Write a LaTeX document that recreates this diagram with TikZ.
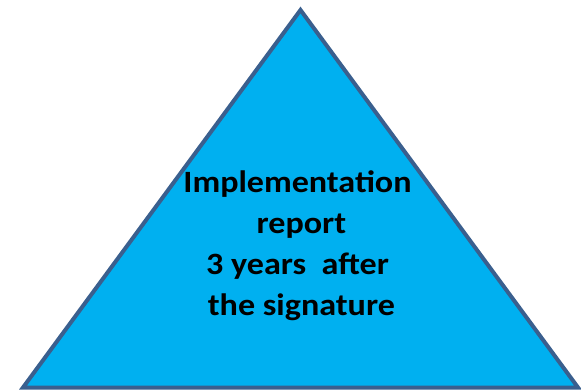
\documentclass[tikz,border=0pt]{standalone}
\usepackage{fontspec}
\setmainfont{Carlito}[FakeStretch=1.1]
\definecolor{trifill}{HTML}{00B0F0}
\definecolor{triline}{HTML}{3A5F8E}
\begin{document}
\begin{tikzpicture}[x=1pt,y=-1pt,
  tri/.style={fill=trifill,draw=triline,line width=4pt,line join=miter},
  label/.style={font=\bfseries\fontsize{31}{40.7}\selectfont,align=center,inner sep=0pt,text=black}]
\useasboundingbox (0,0) rectangle (581,389);
\draw[tri] (300.5,10) -- (578,387.5) -- (23,387.5) -- cycle;
\node[label,anchor=base] (txt) at (297.5,315) {Implementation\\\ report\\3 years\ \ after\\\ the signature};
\end{tikzpicture}
\end{document}
